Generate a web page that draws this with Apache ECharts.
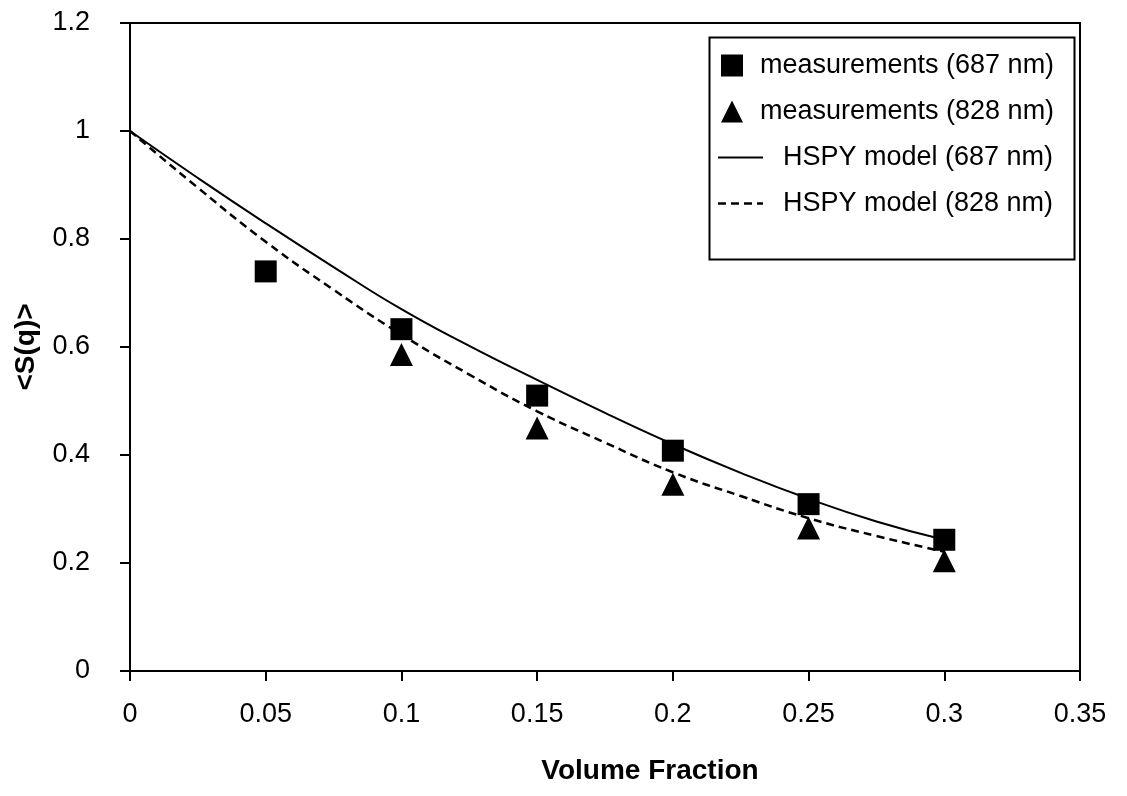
<!DOCTYPE html>
<html>
<head>
<meta charset="utf-8">
<script src="https://cdn.jsdelivr.net/npm/echarts@6/dist/echarts.min.js"></script>
<style>
html,body{margin:0;padding:0;background:#fff;}
#chart{width:1127px;height:796px;}
</style>
</head>
<body>
<div id="chart"></div>
<script>
// Measured points
const measX = [0.05, 0.1, 0.15, 0.2, 0.25, 0.3];
const meas687 = [0.74, 0.633, 0.51, 0.408, 0.309, 0.243];
const meas828X = [0.1, 0.15, 0.2, 0.25, 0.3];
const meas828 = [0.586, 0.45, 0.346, 0.265, 0.204];

// HSPY model curves
const modelX = [0, 0.025, 0.05, 0.075, 0.1, 0.125, 0.15, 0.175, 0.2, 0.225, 0.25, 0.275, 0.3];
const model687 = [1.0, 0.913, 0.829, 0.748, 0.670, 0.602, 0.539, 0.478, 0.420, 0.367, 0.319, 0.277, 0.243];
const model828 = [1.0, 0.895, 0.795, 0.706, 0.623, 0.549, 0.481, 0.423, 0.368, 0.324, 0.283, 0.250, 0.221];

const seriesNames = ['measurements (687 nm)', 'measurements (828 nm)', 'HSPY model (687 nm)', 'HSPY model (828 nm)'];

const zip = (xs, ys) => xs.map((x, i) => [x, ys[i]]);
const FONT = 'Liberation Sans, Arial, sans-serif';

// legend glyphs for the model lines
const solidIcon = 'path://M0,0H45V2H0Z';
const dashIcon = 'path://M0,0h8v2.5h-8Z M13,0h8v2.5h-8Z M26,0h8v2.5h-8Z M39,0h6v2.5h-6Z';

const chart = echarts.init(document.getElementById('chart'));
chart.setOption({
  animation: false,
  backgroundColor: '#fff',
  grid: {
    left: 130, right: 47, top: 23, bottom: 125,
    show: true, borderColor: '#000', borderWidth: 2, backgroundColor: 'transparent'
  },
  xAxis: {
    type: 'value', min: 0, max: 0.35, interval: 0.05,
    name: 'Volume Fraction', nameLocation: 'middle', nameGap: 86,
    nameTextStyle: { fontFamily: FONT, fontSize: 28, fontWeight: 'bold', color: '#000', padding: [0, 0, 0, 90] },
    axisLine: { show: true, lineStyle: { color: '#000', width: 2 } },
    axisTick: { show: true, length: 10, lineStyle: { color: '#000', width: 2 } },
    axisLabel: { fontFamily: FONT, fontSize: 27, color: '#000', margin: 30 },
    splitLine: { show: false }
  },
  yAxis: {
    type: 'value', min: 0, max: 1.2, interval: 0.2,
    name: '<S(q)>', nameLocation: 'middle', nameGap: 90,
    nameTextStyle: { fontFamily: FONT, fontSize: 28, fontWeight: 'bold', color: '#000' },
    axisLine: { show: true, lineStyle: { color: '#000', width: 2 } },
    axisTick: { show: true, length: 10, lineStyle: { color: '#000', width: 2 } },
    axisLabel: { fontFamily: FONT, fontSize: 27, color: '#000', margin: 40 },
    splitLine: { show: false }
  },
  legend: [
    {
      orient: 'vertical', left: 721, top: 52, padding: 0,
      itemWidth: 22, itemHeight: 22, itemGap: 19,
      data: [{ name: seriesNames[0], icon: 'rect' }, { name: seriesNames[1], icon: 'triangle' }],
      textStyle: { fontFamily: FONT, fontSize: 27, color: '#000', padding: [0, 0, 0, 12] }
    },
    {
      orient: 'vertical', left: 718, top: 144, padding: 0,
      itemWidth: 45, itemHeight: 22, itemGap: 19,
      data: [{ name: seriesNames[2], icon: solidIcon }, { name: seriesNames[3], icon: dashIcon }],
      textStyle: { fontFamily: FONT, fontSize: 27, color: '#000', padding: [0, 0, 0, 15] }
    }
  ],
  graphic: [{
    type: 'rect', left: 707, top: 35, z: 100,
    shape: { width: 365, height: 222 },
    style: { fill: 'none', stroke: '#000', lineWidth: 2 }
  }],
  series: [
    {
      name: seriesNames[2], type: 'line', data: zip(modelX, model687),
      smooth: true, symbol: 'none', showSymbol: false, z: 2,
      lineStyle: { color: '#000', width: 2 }, itemStyle: { color: '#000' }
    },
    {
      name: seriesNames[3], type: 'line', data: zip(modelX, model828),
      smooth: true, symbol: 'none', showSymbol: false, z: 2,
      lineStyle: { color: '#000', width: 2.5, type: [8, 5] }, itemStyle: { color: '#000' }
    },
    {
      name: seriesNames[0], type: 'scatter', data: zip(measX, meas687),
      symbol: 'rect', symbolSize: 22, z: 5, itemStyle: { color: '#000', opacity: 1 }
    },
    {
      name: seriesNames[1], type: 'scatter', data: zip(meas828X, meas828),
      symbol: 'triangle', symbolSize: 23, z: 5, itemStyle: { color: '#000', opacity: 1 }
    }
  ]
});
</script>
</body>
</html>
